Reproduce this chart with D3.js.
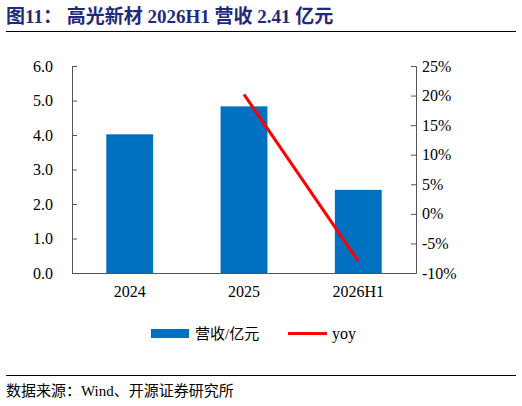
<!DOCTYPE html>
<html><head><meta charset="utf-8">
<script src="https://cdn.jsdelivr.net/npm/d3@7"></script>
<style>body{margin:0;background:#fff}text{font-family:"Liberation Serif","Noto Sans CJK SC",serif}</style>
</head><body><svg id="c" width="522" height="406"></svg>
<script>
const categories=["2024","2025","2026H1"];
const revenue=[4.02,4.83,2.41];
const yoyCats=["2025","2026H1"];
const yoy=[20.2,-8.0];
const leftTicks=[0,1,2,3,4,5,6];
const rightTicks=[-10,-5,0,5,10,15,20,25];

const svg=d3.select("#c");
const L=72,R=416,T=66,B=273;
svg.append("text").attr("x",6).attr("y",23).attr("fill","#1f2a7a").attr("font-size",19).attr("font-weight","bold").text("图11：  高光新材 2026H1 营收 2.41 亿元");
svg.append("line").attr("x1",6).attr("x2",516).attr("y1",31.5).attr("y2",31.5).attr("stroke","#000");
svg.append("line").attr("x1",6).attr("x2",516).attr("y1",375.5).attr("y2",375.5).attr("stroke","#000");
svg.append("text").attr("x",6).attr("y",396).attr("font-size",15).attr("fill","#000").text("数据来源：Wind、开源证券研究所");

const x=d3.scaleBand().domain(categories).range([L,R]).paddingInner(0.59).paddingOuter(0.3);
const yl=d3.scaleLinear().domain([0,6]).range([B,T]);
const yr=d3.scaleLinear().domain([-10,25]).range([B,T]);

svg.selectAll("rect.bar").data(revenue).join("rect").attr("class","bar")
 .attr("x",(d,i)=>x(categories[i])).attr("width",x.bandwidth())
 .attr("y",d=>yl(d)).attr("height",d=>B-yl(d)).attr("fill","#0070c0");

const line=d3.line().x((d,i)=>x(yoyCats[i])+x.bandwidth()/2).y(d=>yr(d));
svg.append("path").datum(yoy).attr("d",line).attr("fill","none").attr("stroke","#ff0000").attr("stroke-width",3);

const ax1=svg.append("g").attr("transform",`translate(${L},0)`).call(d3.axisLeft(yl).tickValues(leftTicks).tickFormat(d3.format(".1f")).tickSizeOuter(0).tickSize(-5));
const ax2=svg.append("g").attr("transform",`translate(${R},0)`).call(d3.axisRight(yr).tickValues(rightTicks).tickFormat(d=>d+"%").tickSizeOuter(0).tickSize(-5));
const ax3=svg.append("g").attr("transform",`translate(0,${B})`).call(d3.axisBottom(x).tickSize(0).tickSizeOuter(0));
[ax1,ax2,ax3].forEach(a=>{a.selectAll("text").attr("font-size",16).attr("fill","#000").style("font-family","Liberation Serif");a.selectAll("path,line").attr("stroke","#555");});
ax1.selectAll("text").attr("x",-19);
ax2.selectAll("text").attr("x",6);
ax3.selectAll("text").attr("dy","1.3em");

const lg=svg.append("g");
lg.append("rect").attr("x",151).attr("y",329).attr("width",38).attr("height",9).attr("fill","#0070c0");
lg.append("text").attr("x",195).attr("y",339).attr("font-size",15).attr("font-family","Noto Sans CJK SC").text("营收/亿元");
lg.append("line").attr("x1",288).attr("x2",327).attr("y1",333.5).attr("y2",333.5).attr("stroke","#ff0000").attr("stroke-width",3);
lg.append("text").attr("x",332).attr("y",339).attr("font-size",16).text("yoy");
</script></body></html>
